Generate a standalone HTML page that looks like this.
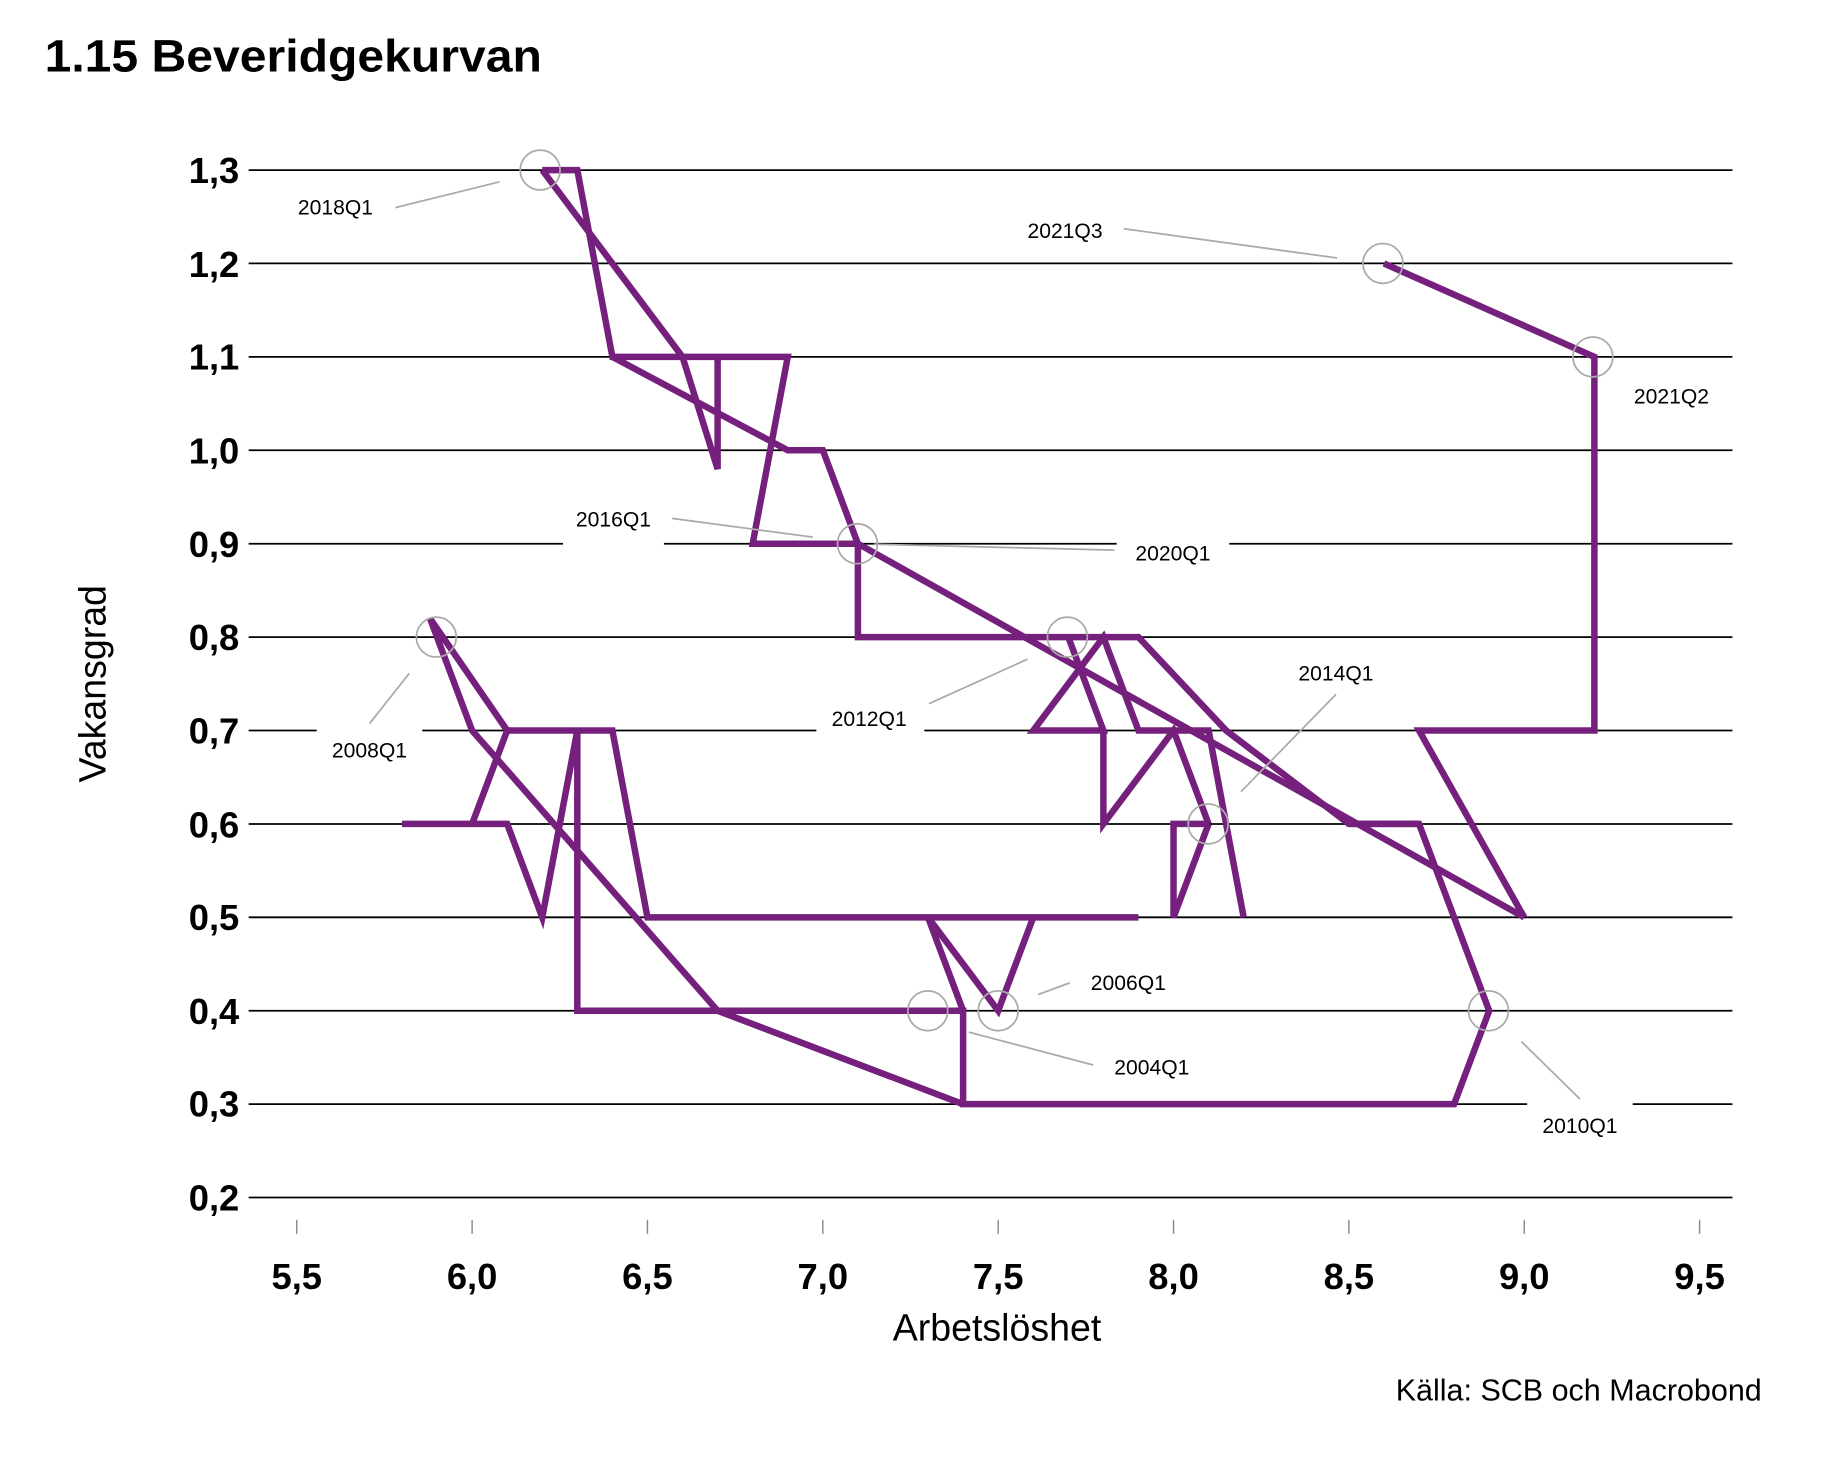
<!DOCTYPE html>
<html><head><meta charset="utf-8"><style>
html,body{margin:0;padding:0;background:#fff;}
svg{display:block;font-family:"Liberation Sans",Arial,sans-serif;}
</style></head><body>
<svg width="1838" height="1462" viewBox="0 0 1567 1246.5" preserveAspectRatio="none">
<text x="38" y="61" font-size="39" font-weight="bold" textLength="424" lengthAdjust="spacingAndGlyphs">1.15 Beveridgekurvan</text>
<g stroke="#000" stroke-width="1.5">
<line x1="212" x2="1477" y1="145" y2="145"/>
<line x1="212" x2="1477" y1="224.6" y2="224.6"/>
<line x1="212" x2="1477" y1="304.3" y2="304.3"/>
<line x1="212" x2="1477" y1="383.9" y2="383.9"/>
<line x1="212" x2="1477" y1="463.6" y2="463.6"/>
<line x1="212" x2="1477" y1="543.2" y2="543.2"/>
<line x1="212" x2="1477" y1="622.8" y2="622.8"/>
<line x1="212" x2="1477" y1="702.5" y2="702.5"/>
<line x1="212" x2="1477" y1="782.1" y2="782.1"/>
<line x1="212" x2="1477" y1="861.8" y2="861.8"/>
<line x1="212" x2="1477" y1="941.4" y2="941.4"/>
<line x1="212" x2="1477" y1="1021" y2="1021"/>
<g stroke="#888" stroke-width="1.2">
<line x1="253" x2="253" y1="1040" y2="1052"/><line x1="402.5" x2="402.5" y1="1040" y2="1052"/>
<line x1="552" x2="552" y1="1040" y2="1052"/><line x1="701.5" x2="701.5" y1="1040" y2="1052"/>
<line x1="851" x2="851" y1="1040" y2="1052"/><line x1="1000.5" x2="1000.5" y1="1040" y2="1052"/>
<line x1="1150" x2="1150" y1="1040" y2="1052"/><line x1="1299.5" x2="1299.5" y1="1040" y2="1052"/>
<line x1="1449" x2="1449" y1="1040" y2="1052"/>
</g></g>
<g font-size="31" font-weight="bold" text-anchor="end">
<text x="204" y="156">1,3</text><text x="204" y="236">1,2</text><text x="204" y="315">1,1</text>
<text x="204" y="395">1,0</text><text x="204" y="475">0,9</text><text x="204" y="554">0,8</text>
<text x="204" y="634">0,7</text><text x="204" y="714">0,6</text><text x="204" y="793">0,5</text>
<text x="204" y="873">0,4</text><text x="204" y="952">0,3</text><text x="204" y="1032">0,2</text>
</g>
<g font-size="31" font-weight="bold" text-anchor="middle">
<text x="253" y="1099">5,5</text><text x="402.5" y="1099">6,0</text><text x="552" y="1099">6,5</text>
<text x="701.5" y="1099">7,0</text><text x="851" y="1099">7,5</text><text x="1000.5" y="1099">8,0</text>
<text x="1150" y="1099">8,5</text><text x="1299.5" y="1099">9,0</text><text x="1449" y="1099">9,5</text>
</g>
<text x="850" y="1143" font-size="32" text-anchor="middle">Arbetslöshet</text>
<text transform="translate(90,583) rotate(-90)" font-size="32" text-anchor="middle">Vakansgrad</text>
<text x="1502" y="1194" font-size="26" text-anchor="end">Källa: SCB och Macrobond</text>
<g fill="#fff">
<rect x="480" y="448" width="86" height="22"/><rect x="952" y="455" width="96" height="26"/>
<rect x="696" y="600" width="92" height="26"/><rect x="270" y="612" width="90" height="26"/>
<rect x="1302" y="930" width="90" height="26"/>
</g>
<g fill="none" stroke="#75207c" stroke-width="6.5" stroke-linejoin="miter" transform="matrix(299 0 0 -796.4 -1391.5 1180.32)">
<polyline vector-effect="non-scaling-stroke" points="5.8,0.6 6.1,0.6 6.2,0.5 6.3,0.7 6.3,0.4 7.4,0.4 7.4,0.3 8.8,0.3 8.9,0.4 8.7,0.6 8.5,0.6"/>
<polyline vector-effect="non-scaling-stroke" points="9.0,0.5 8.7,0.7 9.2,0.7 9.2,1.1 8.6,1.2"/>
<polyline vector-effect="non-scaling-stroke" points="6.0,0.6 6.1,0.7 6.4,0.7 6.5,0.5 7.9,0.5"/>
<polyline vector-effect="non-scaling-stroke" points="6.1,0.7 5.88,0.82 6.0,0.7 6.7,0.4 7.4,0.3"/>
<polyline vector-effect="non-scaling-stroke" points="7.4,0.4 7.3,0.5 7.5,0.4 7.6,0.5"/>
<polyline vector-effect="non-scaling-stroke" points="7.1,0.9 9.0,0.5"/>
<polyline vector-effect="non-scaling-stroke" points="7.1,0.9 7.1,0.8 7.9,0.8 8.15,0.7 8.5,0.6 8.7,0.6"/>
<polyline vector-effect="non-scaling-stroke" points="7.7,0.8 7.8,0.7 7.6,0.7 7.8,0.8 7.9,0.7 8.1,0.7 8.2,0.5"/>
<polyline vector-effect="non-scaling-stroke" points="7.8,0.7 7.8,0.6 8.0,0.7 8.1,0.6"/>
<polyline vector-effect="non-scaling-stroke" points="8.1,0.6 8.0,0.6 8.0,0.5 8.1,0.6"/>
<polyline vector-effect="non-scaling-stroke" points="6.2,1.3 6.3,1.3 6.4,1.1 6.9,1.1 6.8,0.9 7.1,0.9 7.0,1.0 6.9,1.0 6.4,1.1"/>
<polyline vector-effect="non-scaling-stroke" points="6.2,1.3 6.6,1.1 6.7,0.98 6.7,1.1"/>
</g>
<g fill="none" stroke="#aaa" stroke-width="1.5">
<circle cx="460.5" cy="145" r="17"/><circle cx="1179" cy="224.6" r="17"/><circle cx="1358" cy="304.3" r="17"/>
<circle cx="731" cy="463.6" r="17"/><circle cx="372" cy="543.2" r="17"/><circle cx="910" cy="543.2" r="17"/>
<circle cx="1030" cy="702.5" r="17"/><circle cx="791" cy="861.8" r="17"/><circle cx="851" cy="861.8" r="17"/>
<circle cx="1269" cy="861.8" r="17"/>
<line x1="337" y1="177" x2="426" y2="155"/><line x1="958" y1="195" x2="1140" y2="220"/>
<line x1="573" y1="442" x2="693" y2="458"/><line x1="745" y1="464" x2="950" y2="469"/>
<line x1="315" y1="617" x2="349" y2="574"/><line x1="792" y1="600" x2="876" y2="562"/>
<line x1="1139" y1="592" x2="1058" y2="675"/><line x1="912" y1="838" x2="885" y2="848"/>
<line x1="932" y1="908" x2="826" y2="880"/><line x1="1347" y1="937" x2="1297" y2="888"/>
</g>
<g font-size="18" text-anchor="middle">
<text x="286" y="183">2018Q1</text><text x="908" y="203">2021Q3</text><text x="1425" y="344">2021Q2</text>
<text x="523" y="449">2016Q1</text><text x="1000" y="478">2020Q1</text><text x="315" y="646">2008Q1</text>
<text x="741" y="619">2012Q1</text><text x="1139" y="580">2014Q1</text><text x="962" y="844">2006Q1</text>
<text x="982" y="916">2004Q1</text><text x="1347" y="966">2010Q1</text>
</g>
</svg>
</body></html>
